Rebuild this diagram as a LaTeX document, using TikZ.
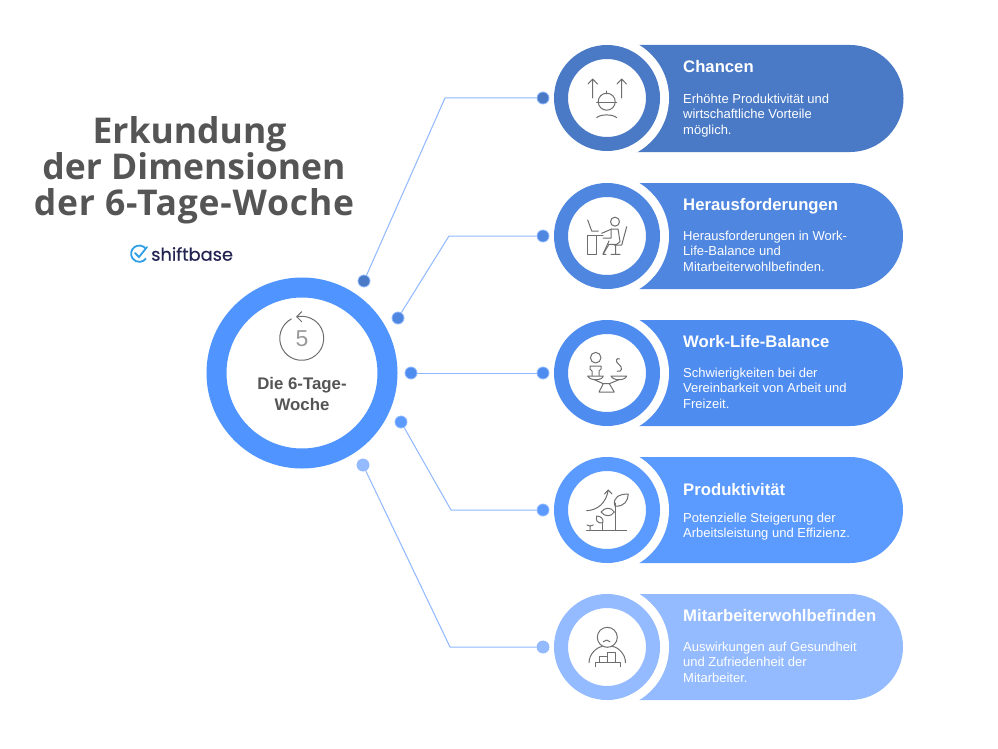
\documentclass[tikz,border=0pt]{standalone}
\usepackage{fontspec}
\setmainfont{Liberation Sans}
\newfontfamily\titlefont{Open Sans}
\newfontfamily\logofont[FakeBold=0.4]{Poppins}
\definecolor{colA}{HTML}{4A7AC6}
\definecolor{colB}{HTML}{4F86E0}
\definecolor{colC}{HTML}{4F8CF0}
\definecolor{colD}{HTML}{5B9AFF}
\definecolor{colE}{HTML}{94BBFF}
\definecolor{colMid}{HTML}{4F94FF}
\definecolor{colLine}{HTML}{8FB8FF}
\definecolor{colText}{HTML}{555555}
\definecolor{colIcon}{HTML}{6E6E6E}
\definecolor{colLogo}{HTML}{2F9FE8}
\begin{document}
\begin{tikzpicture}[x=1pt,y=-1pt,
	mydot/.style={circle,draw=colLine,line width=0.8pt,minimum size=12pt,inner sep=0pt},
	myline/.style={colLine,line width=1pt},
	ringout/.style={circle,fill=white,minimum size=124pt,inner sep=0pt},
	ring/.style={circle,fill=white,minimum size=92pt,inner sep=0pt,line width=14pt},
	head/.style={anchor=base west,text=white,font=\bfseries\fontsize{16.7}{16.7}\selectfont,inner sep=0pt},
	body/.style={anchor=north west,text=white,font=\fontsize{13}{15.6}\selectfont,align=left,inner sep=0pt},
	icon/.style={colIcon,line width=1pt,line cap=round,line join=round}]
	\useasboundingbox (0,0) rectangle (998,749);
	\fill[white] (0,0) rectangle (998,749);

	% title
	\node[font=\titlefont\bfseries\fontsize{35.5}{36}\selectfont,text=colText,align=center,inner sep=0pt] (title) at (194,170)
		{Erkundung\hspace*{9pt}\\der Dimensionen\hspace*{9pt}\\{\addfontfeature{LetterSpace=2.3}der 6-Tage-Woche}};
	% logo
	\node[anchor=west,inner sep=0pt,font=\logofont\fontsize{17.8}{17.8}\selectfont,text=colText!70!blue!60!black] (logo) at (151,254) {shiftbase};
	\draw[colLogo,line width=1.8pt] (146,249) arc (-35:-325:8.2) (146,249);
	\draw[colLogo,line width=1.8pt,line cap=round] (135,253) -- (139,257) -- (147,247);

	% cards
	\fill[colA] (620,45) -- (850,45) arc (-90:90:53.5) -- (620,152) -- cycle;
	\fill[colB] (620,183) -- (850,183) arc (-90:90:53) -- (620,289) -- cycle;
	\fill[colC] (620,320) -- (850,320) arc (-90:90:53) -- (620,426) -- cycle;
	\fill[colD] (620,457) -- (850,457) arc (-90:90:53) -- (620,563) -- cycle;
	\fill[colE] (620,594) -- (850,594) arc (-90:90:53) -- (620,700) -- cycle;
	\node[ringout] (w1) at (607,98) {};
	\node[ringout] (w2) at (607,236) {};
	\node[ringout] (w3) at (607,373) {};
	\node[ringout] (w4) at (607,510) {};
	\node[ringout] (w5) at (607,647) {};
	\node[ring,draw=colA] (r1) at (607,98) {};
	\node[ring,draw=colB] (r2) at (607,236) {};
	\node[ring,draw=colC] (r3) at (607,373) {};
	\node[ring,draw=colD] (r4) at (607,510) {};
	\node[ring,draw=colE] (r5) at (607,647) {};

	% centre
	\node[circle,fill=white,draw=colMid,line width=20pt,minimum size=171pt,inner sep=0pt] (mid) at (302,373) {};
	\node[font=\bfseries\fontsize{16.8}{20.5}\selectfont,text=colText,align=center,inner sep=0pt] (midtext) at (302,394) {Die 6-Tage-\\Woche};
	\node[font=\fontsize{23}{23}\selectfont,text=colIcon!70,inner sep=0pt] (five) at (302,339) {5};
	\draw[icon] (291.4,318.9) arc (-118:-463:22);
	\draw[icon] (301.7,311.7) -- (296.7,316.7) -- (301.7,321.7);

	% dots and connectors
	\node[mydot,fill=colA] (d1) at (364,281) {};
	\node[mydot,fill=colB] (d2) at (398,318) {};
	\node[mydot,fill=colC] (d3) at (411,373) {};
	\node[mydot,fill=colD] (d4) at (401,422) {};
	\node[mydot,fill=colE] (d5) at (363,465) {};
	\node[mydot,fill=colA] (e1) at (543,98) {};
	\node[mydot,fill=colB] (e2) at (543,236) {};
	\node[mydot,fill=colC] (e3) at (543,373) {};
	\node[mydot,fill=colD] (e4) at (543,510) {};
	\node[mydot,fill=colE] (e5) at (543,647) {};
	\coordinate (b1) at (445,98);
	\coordinate (b2) at (449,236);
	\coordinate (b4) at (451,510);
	\coordinate (b5) at (450,647);
	\draw[myline] (d1) -- (b1) -- (e1);
	\draw[myline] (d2) -- (b2) -- (e2);
	\draw[myline] (d3) -- (e3);
	\draw[myline] (d4) -- (b4) -- (e4);
	\draw[myline] (d5) -- (b5) -- (e5);

	% card texts
	\node[head] (h1) at (683,73) {Chancen};
	\node[body] (t1) at (683,93.6) {Erhöhte Produktivität und\\wirtschaftliche Vorteile\\möglich.};
	\node[head] (h2) at (683,210) {Herausforderungen};
	\node[body] (t2) at (683,230.6) {Herausforderungen in Work-\\Life-Balance und\\Mitarbeiterwohlbefinden.};
	\node[head] (h3) at (683,347) {Work-Life-Balance};
	\node[body] (t3) at (683,367.6) {Schwierigkeiten bei der\\Vereinbarkeit von Arbeit und\\Freizeit.};
	\node[head] (h4) at (683,495) {Produktivität};
	\node[body] (t4) at (683,512.6) {Potenzielle Steigerung der\\Arbeitsleistung und Effizienz.};
	\node[head] (h5) at (683,621) {Mitarbeiterwohlbefinden};
	\node[body] (t5) at (683,641.6) {Auswirkungen auf Gesundheit\\und Zufriedenheit der\\Mitarbeiter.};

	% icon: arrows and helmet
	\draw[icon] (592.7,98) -- (592.7,79) (588,84) -- (592.7,79) -- (597.4,84);
	\draw[icon] (621.7,98) -- (621.7,79) (617,84) -- (621.7,79) -- (626.4,84);
	\draw[icon] (606.7,101.7) circle (8.5);
	\draw[icon] (596.7,102.7) -- (616.7,102.7) (606.7,91) -- (606.7,94);
	\draw[icon] (596.7,117.7) .. controls (600,114) and (613,114) .. (616.7,117.7);

	% icon: desk
	\draw[icon] (615,221.7) circle (4.5);
	\draw[icon] (587.7,220) -- (591.7,231) -- (598.3,231);
	\draw[icon] (587.7,254.3) rectangle (596.7,235.7) (587.7,235.7) -- (603,235.7);
	\draw[icon] (601.7,233.3) -- (611.7,229) -- (618,229) -- (620,241.7) -- (616.7,244.3) -- (609,244.3) -- (603,254.3) -- (606,254.3);
	\draw[icon] (603,238) -- (611,238) -- (611,229) (609,241) -- (603,254);
	\draw[icon] (626.7,226.7) -- (621.7,245) -- (614,245) (615.7,245) -- (615.7,254) (611,254.3) -- (620,254.3);

	% icon: scale
	\draw[icon] (595.7,357.7) circle (5.3);
	\draw[icon] (592,375.5) -- (592,371) -- (590,369) -- (590,366) -- (601,366) -- (601,369) -- (599,371) -- (599,375.5);
	\draw[icon] (619.5,359) .. controls (616,357) and (615,362) .. (619,364.5) .. controls (623,367) and (622,373) .. (617,371);
	\draw[icon] (587.7,376) -- (603.3,376) .. controls (602,381) and (590,381) .. (587.7,376);
	\draw[icon] (611,376) -- (626.7,376) .. controls (625,381) and (613,381) .. (611,376);
	\draw[icon] (595,380) -- (603.3,383.7) -- (609.3,383.7) -- (618.3,380);
	\draw[icon] (603.3,383.7) -- (599,392) -- (614.3,392) -- (609.3,383.7);

	% icon: plants
	\draw[icon] (586.7,530) -- (626.7,530);
	\draw[icon] (586.7,510.7) .. controls (598,510) and (606,503) .. (608.3,490) (604.5,494) -- (608.3,490) -- (612,494);
	\draw[icon] (615,530) -- (615,503);
	\draw[icon] (615,506) .. controls (612,497) and (620,494) .. (628.3,494) .. controls (628,501) and (624,507) .. (615,506);
	\draw[icon] (601,512) .. controls (605,507) and (611,507) .. (614.3,512) .. controls (611,517) and (605,517) .. (601,512);
	\draw[icon] (602.7,530) -- (602.7,522);
	\draw[icon] (602.7,523) .. controls (596,523) and (596,520) .. (596.7,516) .. controls (601,516) and (604,519) .. (602.7,523);
	\draw[icon] (590,530) -- (590,526) (587,525) -- (590,526) -- (593.3,525);

	% icon: person at table
	\draw[icon] (607.3,637.3) circle (10);
	\draw[icon] (603.3,641.7) .. controls (605,639.5) and (608,639.5) .. (610,641.7);
	\draw[icon] (589,662.7) .. controls (589,654) and (597,647) .. (602,646.5) (612.5,646.5) .. controls (618,647) and (625.5,654) .. (625.5,662.7);
	\draw[icon] (595,666.7) -- (595,662.7) -- (620,662.7) -- (620,666.7);
	\draw[icon] (599,662.7) rectangle (607.3,656.7) (607.3,662.7) rectangle (615,652.7);
\end{tikzpicture}
\end{document}
